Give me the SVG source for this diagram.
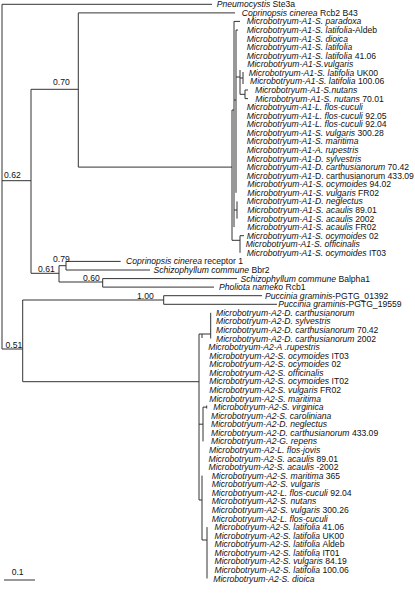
<svg xmlns="http://www.w3.org/2000/svg" width="415" height="597" viewBox="0 0 415 597">
<style>
text{font-family:"Liberation Sans",Arial,sans-serif;font-size:8.6px;fill:#111}
.i{font-style:italic}
.n{font-style:normal}
#edges path{fill:none;stroke:#333;stroke-width:1}
</style>
<rect width="415" height="597" fill="#fff"/>
<g id="edges">
<path d="M2,4.3V349M2,4.3H212M2,180.7H31M2,349H22.7M31,89.3V273.3M31,89.3H78.3M78.3,12.9V167.1M78.3,12.9H235M78.3,167.1H232M31,273.3H59M59,265.7V282M59,265.7H66M66,261.4V270M66,261.4H120.7M66,270H150M59,282H102.7M102.7,278.6V287.1M102.7,278.6H237M102.7,287.1H214M22.7,300V381.7M22.7,300H163.7M163.7,295.7V304.3M163.7,295.7H262M163.7,304.3H277M22.7,381.7H199"/>
<path d="M232,110V240.3M232,110H234M234,21.4V227.1M234,21.4H240M234,100H236M236,30V192.8M236,30H238M236,77H240M240,70V94.3M240,94.3H245M245,90V98.6M245,90H248M245,98.6H248M243,72V84M240,78H243M234,210H237M237,201.4V218.6M232,240.3H240M240,235.7V252.8M240,235.7H244"/>
<path d="M199,334V500M199,334H202M202,334V338M202,334H210.7M210.7,312.8V338.5M199,424.2H203M203,407.1V441.4M203,407.1H206.7M206.7,405.5V408.5M199,500H202M202,475.6V540M202,540H207M207,527.1V578.5"/>
<path d="M4,580H35"/>
</g>
<g id="support">
<text x="53" y="85">0.70</text>
<text x="4" y="178">0.62</text>
<text x="53" y="261.5">0.79</text>
<text x="38" y="271.5">0.61</text>
<text x="83" y="280.5">0.60</text>
<text x="137" y="299.2">1.00</text>
<text x="5.5" y="347.5">0.51</text>
</g>
<g id="scale"><text x="11.7" y="575">0.1</text></g>
<g id="outgroups">
<g id="n-pneumo"><text x="216.7" y="7.3"><tspan class="i">Pneumocystis</tspan> Ste3a</text></g>
<g id="n-copri-rcb2"><text x="241.7" y="15.9"><tspan class="i">Coprinopsis cinerea</tspan> Rcb2 B43</text></g>
<g id="n-copri-rec"><text x="126" y="264.4"><tspan class="i">Coprinopsis cinerea</tspan> receptor 1</text></g>
<g id="n-schizo-bbr2"><text x="153.5" y="273"><tspan class="i">Schizophyllum commune</tspan> Bbr2</text></g>
<g id="n-schizo-ba1"><text x="240.5" y="281.6"><tspan class="i">Schizophyllum commune</tspan> Balpha1</text></g>
<g id="n-pholiota"><text x="219" y="290.1"><tspan class="i">Pholiota nameko</tspan> Rcb1</text></g>
<g id="n-pucc1"><text x="265" y="298.7"><tspan class="i">Puccinia graminis</tspan>-PGTG_01392</text></g>
<g id="n-pucc2"><text x="278.3" y="307.3"><tspan class="i">Puccinia graminis</tspan>-PGTG_19559</text></g>
</g>
<g id="A1">
<g id="a1-1"><text x="246.7" y="24.4" class="i">Microbotryum-A1-S. paradoxa</text></g>
<g id="a1-2"><text x="246.7" y="33" class="i">Microbotryum-A1-S. latifolia<tspan class="n">-Aldeb</tspan></text></g>
<g id="a1-3"><text x="246.7" y="41.6" class="i">Microbotryum-A1-S. dioica</text></g>
<g id="a1-4"><text x="246.7" y="50.2" class="i">Microbotryum-A1-S. latifolia</text></g>
<g id="a1-5"><text x="246.7" y="58.7" class="i">Microbotryum-A1-S. latifolia <tspan class="n">41.06</tspan></text></g>
<g id="a1-6"><text x="247.3" y="67.3" class="i">Microbotryum-A1-S.vulgaris</text></g>
<g id="a1-7"><text x="248.7" y="75.9" class="i">Microbotryum-A1-S. latifolia <tspan class="n">UK00</tspan></text></g>
<g id="a1-8"><text x="250" y="84.4" class="i">Microbotryum-A1-S. latifolia <tspan class="n">100.06</tspan></text></g>
<g id="a1-9"><text x="255" y="93" class="i">Microbotryum-A1-S.nutans</text></g>
<g id="a1-10"><text x="255.3" y="101.6" class="i">Microbotryum-A1-S. nutans <tspan class="n">70.01</tspan></text></g>
<g id="a1-11"><text x="246.7" y="110.1" class="i">Microbotryum-A1-L. flos-cuculi</text></g>
<g id="a1-12"><text x="246.7" y="118.7" class="i">Microbotryum-A1-L. flos-cuculi <tspan class="n">92.05</tspan></text></g>
<g id="a1-13"><text x="246.7" y="127.3" class="i">Microbotryum-A1-L. flos-cuculi <tspan class="n">92.04</tspan></text></g>
<g id="a1-14"><text x="246.7" y="135.9" class="i">Microbotryum-A1-S. vulgaris <tspan class="n">300.28</tspan></text></g>
<g id="a1-15"><text x="246.7" y="144.4" class="i">Microbotryum-A1-S. maritima</text></g>
<g id="a1-16"><text x="246.7" y="153" class="i">Microbotryum-A1-A. rupestris</text></g>
<g id="a1-17"><text x="246.7" y="161.6" class="i">Microbotryum-A1-D. sylvestris</text></g>
<g id="a1-18"><text x="246.7" y="170.1" class="i">Microbotryum-A1-D. carthusianorum <tspan class="n">70.42</tspan></text></g>
<g id="a1-19"><text x="246.7" y="178.7" class="i">Microbotryum-A1-<tspan class="n">D. carthusianorum 433.09</tspan></text></g>
<g id="a1-20"><text x="247.3" y="187.3" class="i">Microbotryum-A1-S. ocymoides <tspan class="n">94.02</tspan></text></g>
<g id="a1-21"><text x="247.3" y="195.8" class="i">Microbotryum-A1-S. vulgaris <tspan class="n">FR02</tspan></text></g>
<g id="a1-22"><text x="246.7" y="204.4" class="i">Microbotryum-A1-D. neglectus</text></g>
<g id="a1-23"><text x="247.3" y="213" class="i">Microbotryum-A1-S. acaulis <tspan class="n">89.01</tspan></text></g>
<g id="a1-24"><text x="247.3" y="221.6" class="i">Microbotryum-A1-S. acaulis <tspan class="n">2002</tspan></text></g>
<g id="a1-25"><text x="247.3" y="230.1" class="i">Microbotryum-A1-S. acaulis <tspan class="n">FR02</tspan></text></g>
<g id="a1-26"><text x="246.7" y="238.7" class="i">Microbotryum-A1-S. ocymoides <tspan class="n">02</tspan></text></g>
<g id="a1-27"><text x="245.7" y="247.3" class="i">Microbotryum-A1-S. officinalis</text></g>
<g id="a1-28"><text x="246.7" y="255.8" class="i">Microbotryum-A1-S. ocymoides <tspan class="n">IT03</tspan></text></g>
</g>
<g id="A2">
<g id="a2-1"><text x="216" y="315.8" class="i">Microbotryum-A2-D. carthusianorum</text></g>
<g id="a2-2"><text x="216" y="324.4" class="i">Microbotryum-A2-D. sylvestris</text></g>
<g id="a2-3"><text x="216" y="333" class="i">Microbotryum-A2-D. carthusianorum <tspan class="n">70.42</tspan></text></g>
<g id="a2-4"><text x="216" y="341.5" class="i">Microbotryum-A2-D. carthusianorum <tspan class="n">2002</tspan></text></g>
<g id="a2-5"><text x="208.3" y="350.1" class="i">Microbotryum-A2-A .rupestris</text></g>
<g id="a2-6"><text x="209.3" y="358.7" class="i">Microbotryum-A2-S. ocymoides <tspan class="n">IT03</tspan></text></g>
<g id="a2-7"><text x="209.3" y="367.2" class="i">Microbotryum-A2-S. ocymoides <tspan class="n">02</tspan></text></g>
<g id="a2-8"><text x="209.3" y="375.8" class="i">Microbotryum-A2-S. officinalis</text></g>
<g id="a2-9"><text x="209.3" y="384.4" class="i">Microbotryum-A2-S. ocymoides <tspan class="n">IT02</tspan></text></g>
<g id="a2-10"><text x="209.3" y="393" class="i">Microbotryum-A2-S. vulgaris <tspan class="n">FR02</tspan></text></g>
<g id="a2-11"><text x="209.3" y="401.5" class="i">Microbotryum-A2-S. maritima</text></g>
<g id="a2-12"><text x="213.3" y="410.1" class="i">Microbotryum-A2-S. virginica</text></g>
<g id="a2-13"><text x="211" y="418.6" class="i">Microbotryum-A2-S. caroliniana</text></g>
<g id="a2-14"><text x="211" y="427.2" class="i">Microbotryum-A2-D. neglectus</text></g>
<g id="a2-15"><text x="211" y="435.8" class="i">Microbotryum-A2-D. carthusianorum <tspan class="n">433.09</tspan></text></g>
<g id="a2-16"><text x="211" y="444.4" class="i">Microbotryum-A2-G. repens</text></g>
<g id="a2-17"><text x="209" y="452.9" class="i">Microbotryum-A2-L. flos-jovis</text></g>
<g id="a2-18"><text x="208.5" y="461.5" class="i">Microbotryum-A2-S. acaulis <tspan class="n">89.01</tspan></text></g>
<g id="a2-19"><text x="208.5" y="470.1" class="i">Microbotryum-A2-S. acaulis <tspan class="n">-2002</tspan></text></g>
<g id="a2-20"><text x="211.7" y="478.6" class="i">Microbotryum-A2-S. maritima <tspan class="n">365</tspan></text></g>
<g id="a2-21"><text x="211.7" y="487.2" class="i">Microbotryum-A2-S. vulgaris</text></g>
<g id="a2-22"><text x="211.7" y="495.8" class="i">Microbotryum-A2-L. flos-cuculi <tspan class="n">92.04</tspan></text></g>
<g id="a2-23"><text x="211.7" y="504.3" class="i">Microbotryum-A2-S. nutans</text></g>
<g id="a2-24"><text x="211.7" y="512.9" class="i">Microbotryum-A2-S. vulgaris <tspan class="n">300.26</tspan></text></g>
<g id="a2-25"><text x="211.7" y="521.5" class="i">Microbotryum-A2-L. flos-cuculi</text></g>
<g id="a2-26"><text x="214.5" y="530.1" class="i">Microbotryum-A2-S. latifolia <tspan class="n">41.06</tspan></text></g>
<g id="a2-27"><text x="214.5" y="538.6" class="i">Microbotryum-A2-S. latifolia <tspan class="n">UK00</tspan></text></g>
<g id="a2-28"><text x="214.5" y="547.2" class="i">Microbotryum-A2-S. latifolia <tspan class="n">Aldeb</tspan></text></g>
<g id="a2-29"><text x="214.5" y="555.8" class="i">Microbotryum-A2-S. latifolia <tspan class="n">IT01</tspan></text></g>
<g id="a2-30"><text x="214.5" y="564.4" class="i">Microbotryum-A2-S. vulgaris <tspan class="n">84.19</tspan></text></g>
<g id="a2-31"><text x="214.5" y="572.9" class="i">Microbotryum-A2-S. latifolia <tspan class="n">100.06</tspan></text></g>
<g id="a2-32"><text x="213.3" y="581.5" class="i">Microbotryum-A2-S. dioica</text></g>
</g>
</svg>
